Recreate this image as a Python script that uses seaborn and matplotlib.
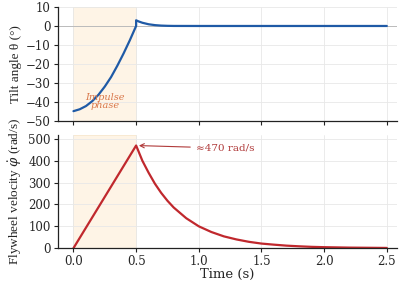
import matplotlib
matplotlib.use("Agg")
import matplotlib.pyplot as plt
import seaborn as sns
import pandas as pd

# Tilt angle data
t_theta = [0.0, 0.05, 0.1, 0.15, 0.2, 0.25, 0.3, 0.35, 0.4, 0.45, 0.5,
           0.5, 0.52, 0.55, 0.6, 0.65, 0.7, 0.75, 0.8, 1.0, 1.5, 2.0, 2.5]
theta = [-45.0, -44.0, -42.3, -39.7, -36.3, -32.0, -27.0, -21.0, -14.5, -7.5, 0.0,
         3.0, 2.4, 1.7, 0.9, 0.45, 0.2, 0.08, 0.02, 0.0, 0.0, 0.0, 0.0]

# Flywheel velocity data
t_phi = [0.0, 0.5, 0.55, 0.6, 0.65, 0.7, 0.75, 0.8, 0.9, 1.0, 1.1, 1.2, 1.3,
         1.4, 1.5, 1.6, 1.7, 1.8, 1.9, 2.0, 2.2, 2.5]
phi = [0.0, 470.0, 400.0, 345.0, 295.0, 253.0, 217.0, 186.0, 137.0, 100.0, 74.0,
       54.0, 40.0, 29.0, 21.0, 16.0, 11.5, 8.5, 6.0, 4.5, 2.5, 1.0]

xticks = [0.0, 0.5, 1.0, 1.5, 2.0, 2.5]
theta_ticks = [-50, -40, -30, -20, -10, 0, 10]
phi_ticks = [0, 100, 200, 300, 400, 500]

sns.set_theme(style="whitegrid")
plt.rcParams['font.family'] = ['DejaVu Serif']
plt.rcParams['mathtext.fontset'] = 'dejavuserif'

fig, (ax1, ax2) = plt.subplots(2, 1, figsize=(4.07, 2.82), dpi=100, sharex=True)
fig.subplots_adjust(left=0.142, right=0.975, top=0.975, bottom=0.12, hspace=0.123)

blue = "#1f5aa6"
red = "#c0282d"
shade = "#fef4e6"

df1 = pd.DataFrame({"t": t_theta, "theta": theta})
df2 = pd.DataFrame({"t": t_phi, "phi": phi})

for ax in (ax1, ax2):
    ax.axvspan(0, 0.5, facecolor=shade, edgecolor="#f7e6cc", lw=0.6, zorder=0)
    ax.grid(True, color="#e8e8e8", lw=0.6)
    ax.set_axisbelow(True)
    ax.set_facecolor("white")
    for s in ("top", "right"):
        ax.spines[s].set_visible(False)
    for s in ("left", "bottom"):
        ax.spines[s].set_color("#222222")
        ax.spines[s].set_linewidth(0.9)
    ax.tick_params(axis="both", labelsize=8.5, length=3, width=0.8, color="#222222",
                   pad=2, bottom=True, left=True)

ax1.axhline(0, color="#bbbbbb", lw=0.7, zorder=1)
sns.lineplot(data=df1, x="t", y="theta", ax=ax1, color=blue, lw=1.6, sort=False, estimator=None)
sns.lineplot(data=df2, x="t", y="phi", ax=ax2, color=red, lw=1.6, sort=False, estimator=None)

ax1.set_ylim(-50, 10)
ax1.set_yticks(theta_ticks)
ax1.set_ylabel("Tilt angle θ (°)", fontsize=9.5, family="Liberation Serif", labelpad=3)
ax1.set_xlabel("")
ax1.text(0.25, -40, "Impulse\nphase", ha="center", va="center", fontsize=7,
         style="italic", color="#d9774a", linespacing=0.9)

ax2.set_ylim(0, 520)
ax2.set_yticks(phi_ticks)
ax2.set_xlim(-0.125, 2.58)
ax2.set_xticks(xticks)
ax2.set_xticklabels([f"{v:.1f}" for v in xticks])
ax2.set_ylabel("Flywheel velocity $\\dot{\\varphi}$ (rad/s)", fontsize=9.5,
               family="Liberation Serif", labelpad=3)
ax2.set_xlabel("Time (s)", fontsize=9.5, labelpad=0)
ax2.annotate("≈470 rad/s", xy=(0.5, 470), xytext=(0.98, 458), fontsize=7.5,
             color="#b03a3a", va="center",
             arrowprops=dict(arrowstyle="->", color="#b03a3a", lw=0.8))

fig.savefig("out.png", dpi=100)
